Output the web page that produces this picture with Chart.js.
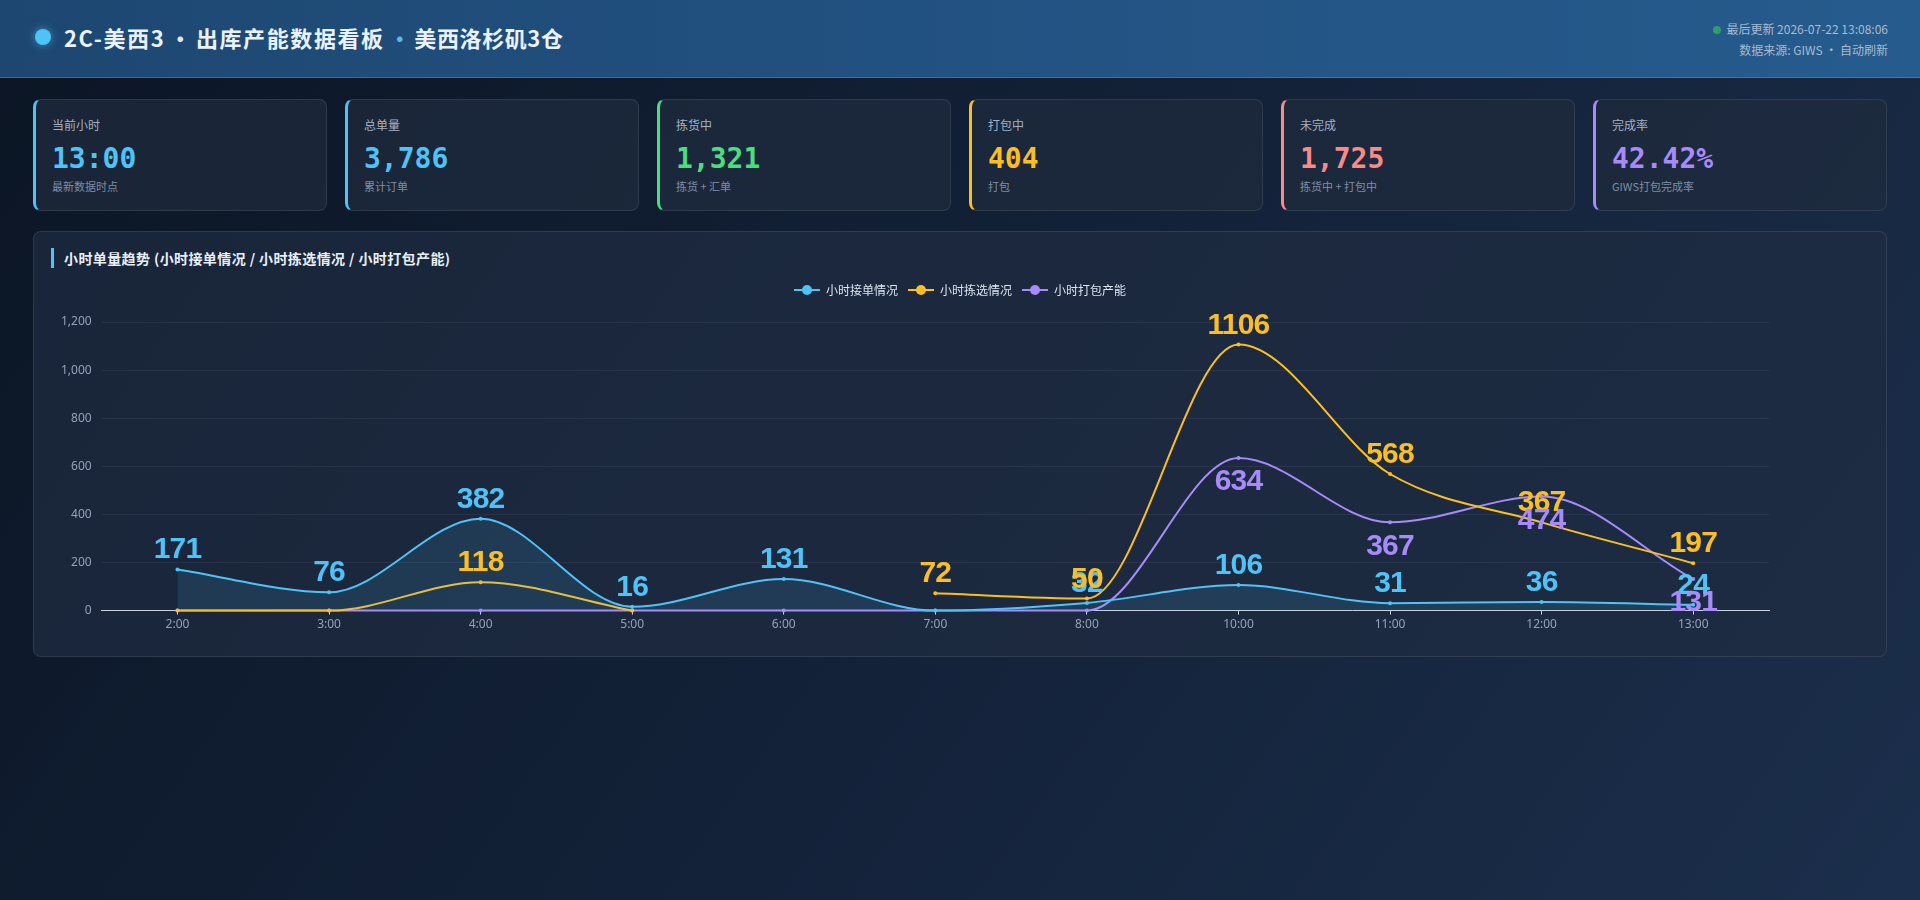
<!DOCTYPE html>
<html lang="zh-CN">
<head>
<meta charset="UTF-8">
<title>2C-美西3 出库产能数据看板</title>
<script src="https://cdn.jsdelivr.net/npm/chart.js@4.4.1/dist/chart.umd.min.js"></script>
<style>
    * { box-sizing: border-box; }
    html, body {
        margin: 0;
        width: 1920px;
        height: 900px;
        overflow: hidden;
    }
    body {
        font-family: "Noto Sans CJK SC", "Noto Sans", sans-serif;
        background: linear-gradient(125deg, #0b1524 0%, #122036 45%, #1b2e4b 100%);
        color: #e6edf5;
    }
    .header {
        height: 78px;
        background: linear-gradient(90deg, #1d4771 0%, #225282 50%, #265b8d 100%);
        border-bottom: 1px solid rgba(120, 170, 220, 0.35);
        display: flex;
        align-items: center;
        justify-content: space-between;
        padding: 0 32px 0 35px;
    }
    .title {
        display: flex;
        align-items: center;
        font-size: 22px;
        font-weight: 700;
        letter-spacing: 1.6px;
        color: #eaf2fb;
        margin-bottom: 3px;
    }
    .title .dot {
        width: 16px;
        height: 16px;
        border-radius: 50%;
        background: #4fc3f7;
        box-shadow: 0 0 8px rgba(79, 195, 247, 0.6);
        margin-right: 13px;
    }
    .title .sep { color: #dfe9f5; margin: 0 3px 0 4px; }
    .title .sep.blue { color: #5fb6ea; margin: 0 2px 0 4px; }
    .title .site { letter-spacing: 0.6px; }
    .meta {
        text-align: right;
        font-size: 12px;
        color: #a9bbcf;
        line-height: 21px;
        margin-top: 1px;
    }
    .meta .live {
        display: inline-block;
        width: 8px;
        height: 8px;
        border-radius: 50%;
        background: #2f9e6e;
        margin-right: 5px;
        vertical-align: 0px;
    }
    .main { padding: 21px 33px 0 33px; }
    .cards {
        display: flex;
        gap: 18px;
    }
    .card {
        width: 294px;
        height: 112px;
        background: rgba(31, 43, 62, 0.75);
        border: 1px solid rgba(255, 255, 255, 0.09);
        border-left: 3px solid #4fc3f7;
        border-radius: 8px;
        padding: 16px 16px;
    }
    .card .label { font-size: 12px; color: #a3b1c4; line-height: 18px; }
    .card .value {
        font-family: "DejaVu Sans Mono", monospace;
        font-weight: 700;
        font-size: 28px;
        line-height: 34px;
        margin-top: 8px;
    }
    .card .sub { font-size: 11px; color: #7f8ea4; line-height: 16px; margin-top: 2px; }
    .panel {
        margin-top: 20px;
        height: 426px;
        background: rgba(31, 44, 66, 0.7);
        border: 1px solid rgba(255, 255, 255, 0.09);
        border-radius: 8px;
        padding: 16px 17px;
    }
    .panel-title {
        font-size: 14px;
        font-weight: 700;
        letter-spacing: 0.4px;
        color: #e9eff6;
        border-left: 3px solid #4fc3f7;
        padding-left: 10px;
        line-height: 20px;
    }
    .chart-box {
        position: relative;
        height: 367px;
        margin-top: 6px;
    }
</style>
</head>
<body>
<div class="header">
    <div class="title">
        <span class="dot"></span>
        <span>2C-美西3</span><span class="sep">·</span><span>出库产能数据看板</span><span class="sep blue">·</span><span class="site">美西洛杉矶3仓</span>
    </div>
    <div class="meta">
        <div><span class="live"></span>最后更新 2026-07-22 13:08:06</div>
        <div>数据来源: GIWS · 自动刷新</div>
    </div>
</div>

<div class="main">
    <div class="cards" id="cards"></div>
    <div class="panel">
        <div class="panel-title">小时单量趋势 (小时接单情况 / 小时拣选情况 / 小时打包产能)</div>
        <div class="chart-box"><canvas id="trendChart"></canvas></div>
    </div>
</div>

<script>
// hours on the x axis (no 9:00 in the source data)
const hours = ["2:00", "3:00", "4:00", "5:00", "6:00", "7:00", "8:00", "10:00", "11:00", "12:00", "13:00"];

// hourly series
const ordersIn = [171, 76, 382, 16, 131, 0, 32, 106, 31, 36, 24];
const picked = [0, 0, 118, 0, null, 72, 50, 1106, 568, 367, 197];
const packed = [0, 0, 0, 0, 0, 0, 0, 634, 367, 474, 131];

const seriesNames = ["小时接单情况", "小时拣选情况", "小时打包产能"];

// KPI cards
const cardLabels = ["当前小时", "总单量", "拣货中", "打包中", "未完成", "完成率"];
const cardValues = ["13:00", "3,786", "1,321", "404", "1,725", "42.42%"];
const cardNotes = ["最新数据时点", "累计订单", "拣货 + 汇单", "打包", "拣货中 + 打包中", "GIWS打包完成率"];
const cardColors = ["#4fc3f7", "#4fc3f7", "#4ade80", "#fbbf24", "#f88a8a", "#a78bfa"];

const BLUE = "#4fc3f7";
const YELLOW = "#fbbf24";
const PURPLE = "#a78bfa";

document.addEventListener("DOMContentLoaded", function () {
    const cardsEl = document.getElementById("cards");
    cardLabels.forEach((label, i) => {
        const card = document.createElement("div");
        card.className = "card";
        card.style.borderLeftColor = cardColors[i];
        card.innerHTML =
            '<div class="label">' + label + '</div>' +
            '<div class="value" style="color:' + cardColors[i] + '">' + cardValues[i] + '</div>' +
            '<div class="sub">' + cardNotes[i] + '</div>';
        cardsEl.appendChild(card);
    });

    // legend icon: short line with a dot in the middle
    function legendIcon(color) {
        const c = document.createElement("canvas");
        c.width = 26;
        c.height = 12;
        const g = c.getContext("2d");
        g.strokeStyle = color;
        g.lineWidth = 2;
        g.beginPath();
        g.moveTo(0, 6);
        g.lineTo(26, 6);
        g.stroke();
        g.fillStyle = color;
        g.beginPath();
        g.arc(13, 6, 5, 0, Math.PI * 2);
        g.fill();
        return c;
    }

    // extra gap under the legend
    const legendGap = {
        id: "legendGap",
        beforeInit(chart) {
            const fit = chart.legend.fit;
            chart.legend.fit = function () {
                fit.bind(chart.legend)();
                this.height += 16;
            };
        }
    };

    // value labels above (or below for packing) each non-zero point
    const valueLabels = {
        id: "valueLabels",
        afterDatasetsDraw(chart) {
            const ctx = chart.ctx;
            ctx.save();
            ctx.font = "bold 30px 'Liberation Sans', Arial, sans-serif";
            ctx.letterSpacing = "-0.8px";
            ctx.textAlign = "center";
            chart.data.datasets.forEach((ds, di) => {
                const meta = chart.getDatasetMeta(di);
                meta.data.forEach((pt, i) => {
                    const v = ds.data[i];
                    if (v === null || v === 0) return;
                    ctx.fillStyle = ds.borderColor;
                    if (ds.labelBelow) {
                        ctx.textBaseline = "top";
                        ctx.fillText(String(v), pt.x, pt.y + 9);
                    } else {
                        ctx.textBaseline = "alphabetic";
                        ctx.fillText(String(v), pt.x, pt.y - 11);
                    }
                });
            });
            ctx.restore();
        }
    };

    const canvas = document.getElementById("trendChart");
    new Chart(canvas, {
        type: "line",
        data: {
            labels: hours,
            datasets: [
                {
                    label: seriesNames[0],
                    data: ordersIn,
                    borderColor: BLUE,
                    backgroundColor: "rgba(79, 195, 247, 0.13)",
                    fill: "origin",
                    icon: legendIcon(BLUE)
                },
                {
                    label: seriesNames[1],
                    data: picked,
                    borderColor: YELLOW,
                    backgroundColor: YELLOW,
                    fill: false,
                    icon: legendIcon(YELLOW)
                },
                {
                    label: seriesNames[2],
                    data: packed,
                    borderColor: PURPLE,
                    backgroundColor: PURPLE,
                    fill: false,
                    labelBelow: true,
                    icon: legendIcon(PURPLE)
                }
            ]
        },
        options: {
            responsive: true,
            maintainAspectRatio: false,
            animation: false,
            layout: { padding: { left: 0, right: 0, top: 0, bottom: 6 } },
            elements: {
                line: { borderWidth: 2, cubicInterpolationMode: "monotone" },
                point: { radius: 2, borderWidth: 0, hoverRadius: 4 }
            },
            datasets: { line: { pointBackgroundColor: ctx => ctx.dataset.borderColor } },
            plugins: {
                legend: {
                    position: "top",
                    labels: {
                        usePointStyle: true,
                        pointStyleWidth: 26,
                        boxHeight: 12,
                        padding: 10,
                        color: "#dbe4ef",
                        font: { size: 12, family: "'Noto Sans CJK SC', sans-serif" },
                        generateLabels(chart) {
                            return chart.data.datasets.map((ds, i) => ({
                                text: ds.label,
                                fillStyle: ds.borderColor,
                                strokeStyle: ds.borderColor,
                                fontColor: "#dbe4ef",
                                pointStyle: ds.icon,
                                hidden: !chart.isDatasetVisible(i),
                                datasetIndex: i
                            }));
                        }
                    }
                },
                tooltip: { enabled: false }
            },
            scales: {
                x: {
                    offset: true,
                    border: { display: true, color: "#c9d2de", width: 1 },
                    grid: { drawOnChartArea: false, drawTicks: true, tickLength: 4, color: "#c9d2de" },
                    ticks: { color: "#93a3b8", padding: 3, font: { size: 12, family: "'Noto Sans', sans-serif" } }
                },
                y: {
                    beginAtZero: true,
                    max: 1200,
                    border: { display: false },
                    grid: { color: "rgba(255, 255, 255, 0.06)", drawTicks: false },
                    ticks: { stepSize: 200, color: "#93a3b8", padding: 10, font: { size: 12, family: "'Noto Sans', sans-serif" } }
                },
                // empty right-hand box that keeps the plot clear of the panel edge
                spacer: {
                    position: "right",
                    display: true,
                    grid: { display: false, drawTicks: false },
                    border: { display: false },
                    ticks: { display: false },
                    afterFit(scale) { scale.width = 100; }
                }
            }
        },
        plugins: [valueLabels, legendGap]
    });
});
</script>
</body>
</html>
